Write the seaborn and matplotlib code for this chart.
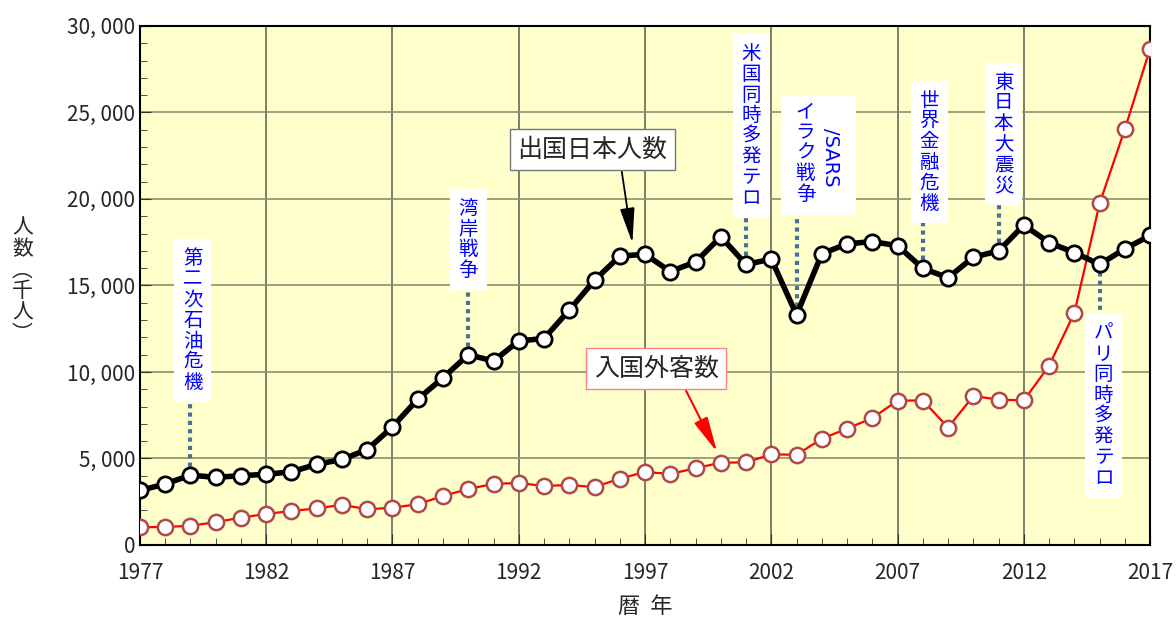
import pandas as pd
import numpy as np
import matplotlib.pyplot as plt
import matplotlib.ticker as mticker
import matplotlib.patches as mpatches
import seaborn as sns

# calendar years and visitor counts (thousand people)
years = list(range(1977, 2018))
outbound = [3151, 3525, 4038, 3909, 4006, 4086, 4233, 4659, 4948, 5516,
            6829, 8427, 9663, 10997, 10634, 11791, 11934, 13579, 15298, 16695,
            16803, 15806, 16358, 17819, 16216, 16523, 13296, 16831, 17404, 17535,
            17295, 15987, 15446, 16637, 16994, 18491, 17473, 16903, 16214, 17116,
            17889]
inbound = [1028, 1039, 1113, 1317, 1583, 1793, 1968, 2110, 2327, 2062,
           2155, 2355, 2835, 3236, 3533, 3582, 3410, 3468, 3345, 3837,
           4218, 4106, 4438, 4757, 4772, 5239, 5212, 6138, 6728, 7334,
           8347, 8351, 6790, 8611, 8400, 8358, 10364, 13413, 19737, 24039,
           28691]
xticks = list(range(1977, 2018, 5))

# events: year, label
events = [(1979, "第二次石油危機"), (1990, "湾岸戦争"), (2001, "米国同時多発テロ"),
          (2003, "イラク戦争"), (2008, "世界金融危機"), (2011, "東日本大震災"),
          (2015, "パリ同時多発テロ")]

df = pd.DataFrame({"year": years, "outbound": outbound, "inbound": inbound})

sns.set_style("ticks")
plt.rcParams["font.family"] = ["Noto Sans CJK JP", "DejaVu Sans"]
plt.rcParams["axes.unicode_minus"] = False

fig = plt.figure(figsize=(11.76, 6.17), dpi=100)
ax = fig.add_axes([0.119, 0.1167, 0.859, 0.8413])
ax.set_facecolor("#ffffcc")

sns.lineplot(data=df, x="year", y="inbound", ax=ax, color="#ff0000", linewidth=1.6,
             marker="o", markersize=11, markerfacecolor="white",
             markeredgecolor="#b04848", markeredgewidth=1.8, zorder=4)
sns.lineplot(data=df, x="year", y="outbound", ax=ax, color="black", linewidth=4,
             marker="o", markersize=11, markerfacecolor="white",
             markeredgecolor="black", markeredgewidth=2, zorder=5)

ax.set_xlim(1977, 2017)
ax.set_ylim(0, 30000)
ax.xaxis.set_major_locator(mticker.FixedLocator(xticks))
ax.xaxis.set_minor_locator(mticker.MultipleLocator(1))
ax.yaxis.set_major_locator(mticker.MultipleLocator(5000))
ax.yaxis.set_minor_locator(mticker.MultipleLocator(1000))
ax.yaxis.set_major_formatter(mticker.FuncFormatter(lambda v, p: f"{v:,.0f}".replace(",", ", ")))
ax.tick_params(which="both", direction="in", labelsize=15, color="#333333")
ax.tick_params(which="major", length=8)
ax.tick_params(which="minor", length=5)
ax.tick_params(axis="x", pad=12)
ax.grid(True, which="major", axis="x", color="#6a6a55", linewidth=1.2)
ax.grid(True, which="major", axis="y", color="#8f8f70", linewidth=1.2)
for s in ax.spines.values():
    s.set_color("black")
    s.set_linewidth(1.5)

ax.set_xlabel("暦  年", fontsize=16, labelpad=8)
ax.set_ylabel("")
fig.text(0.019, 0.545, "人\n数\n︵\n千\n人\n︶", fontsize=15, ha="center", va="center",
         linespacing=0.95)

# event annotations (vertical text boxes with dotted leader lines)
out_by_year = dict(zip(years, outbound))
box_kw = dict(boxstyle="square,pad=0.45", facecolor="white", edgecolor="none")
txt_kw = dict(color="#0000ff", fontsize=14, ha="center", linespacing=0.98, zorder=7)
line_kw = dict(color="#4a6f9a", linestyle=(0, (1, 1)), linewidth=3, zorder=3)

# (label position x, text bottom y) for each event
label_pos = {1979: (1979.1, 8790), 1990: (1990.0, 15260), 2001: (2001.2, 19420),
             2008: (2008.25, 19130), 2011: (2011.2, 20170)}
for yr, lab in events:
    yv = out_by_year[yr]
    if yr in label_pos:
        lx, ly = label_pos[yr]
        ax.text(lx, ly, "\n".join(lab), va="bottom", bbox=box_kw, **txt_kw)
        ax.plot([yr, yr], [yv, ly - 500], **line_kw)
    elif yr == 2003:
        ax.add_patch(mpatches.Rectangle((2002.4, 19075), 2.95, 6880, facecolor="white",
                                        edgecolor="none", zorder=6))
        ax.text(2003.35, 19650, "\n".join(lab), va="bottom", **txt_kw)
        ax.text(2004.33, 22430, "/SARS", va="center", rotation=270, color="#0000ff",
                fontsize=14, ha="center", zorder=8, family=["DejaVu Sans"])
        ax.plot([yr, yr], [yv, 19075], **line_kw)
    else:
        ax.text(yr + 0.15, 12830, "\n".join(lab), va="top", bbox=box_kw, **txt_kw)
        ax.plot([yr, yr], [yv, 13300], **line_kw)

# series labels with arrows
ax.annotate("出国日本人数", xy=(1996.5, 17450), xytext=(1994.9, 22830),
            fontsize=18, ha="center", va="center", zorder=8,
            bbox=dict(boxstyle="square,pad=0.3", facecolor="white", edgecolor="#777777"),
            arrowprops=dict(arrowstyle="-|>,head_width=0.25,head_length=1.2", color="black",
                            lw=1.3, relpos=(0.69, 0), shrinkA=0, shrinkB=0))
ax.annotate("入国外客数", xy=(1999.85, 5380), xytext=(1997.45, 10200),
            fontsize=18, ha="center", va="center", zorder=8,
            bbox=dict(boxstyle="square,pad=0.3", facecolor="white", edgecolor="#ff8080"),
            arrowprops=dict(arrowstyle="-|>,head_width=0.25,head_length=1.2", color="#ff0000",
                            lw=1.5, relpos=(0.7, 0), shrinkA=0, shrinkB=0))

fig.savefig("out.png", dpi=100)
